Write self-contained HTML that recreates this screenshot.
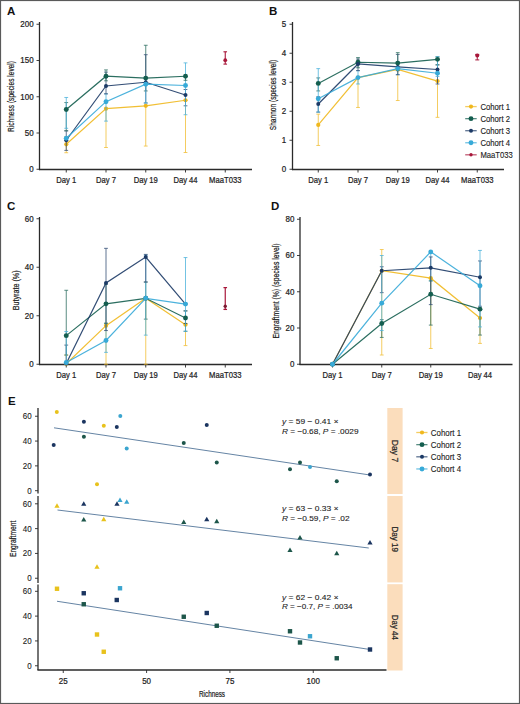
<!DOCTYPE html><html><head><meta charset="utf-8"><style>html,body{margin:0;padding:0;background:#fff;}svg{display:block;}text{font-family:"Liberation Sans", sans-serif;}</style></head><body>
<svg width="520" height="704" viewBox="0 0 520 704">
<rect x="0" y="0" width="520" height="704" fill="#fff"/>
<text x="7.00" y="14.60" font-size="11.5" text-anchor="start" fill="#111" font-weight="bold">A</text>
<line x1="39.50" y1="22.00" x2="39.50" y2="170.10" stroke="#2a2a2a" stroke-width="1.3"/>
<line x1="38.90" y1="169.50" x2="252.00" y2="169.50" stroke="#2a2a2a" stroke-width="1.3"/>
<line x1="36.50" y1="169.25" x2="39.50" y2="169.25" stroke="#2a2a2a" stroke-width="0.9"/>
<text x="33.60" y="172.15" font-size="8.4" text-anchor="end" fill="#222" stroke="#222" stroke-width="0.22" textLength="4.44" lengthAdjust="spacingAndGlyphs">0</text>
<line x1="36.50" y1="133.00" x2="39.50" y2="133.00" stroke="#2a2a2a" stroke-width="0.9"/>
<text x="33.60" y="135.90" font-size="8.4" text-anchor="end" fill="#222" stroke="#222" stroke-width="0.22" textLength="8.88" lengthAdjust="spacingAndGlyphs">50</text>
<line x1="36.50" y1="96.75" x2="39.50" y2="96.75" stroke="#2a2a2a" stroke-width="0.9"/>
<text x="33.60" y="99.65" font-size="8.4" text-anchor="end" fill="#222" stroke="#222" stroke-width="0.22" textLength="13.31" lengthAdjust="spacingAndGlyphs">100</text>
<line x1="36.50" y1="60.50" x2="39.50" y2="60.50" stroke="#2a2a2a" stroke-width="0.9"/>
<text x="33.60" y="63.40" font-size="8.4" text-anchor="end" fill="#222" stroke="#222" stroke-width="0.22" textLength="13.31" lengthAdjust="spacingAndGlyphs">150</text>
<line x1="36.50" y1="24.25" x2="39.50" y2="24.25" stroke="#2a2a2a" stroke-width="0.9"/>
<text x="33.60" y="27.15" font-size="8.4" text-anchor="end" fill="#222" stroke="#222" stroke-width="0.22" textLength="13.31" lengthAdjust="spacingAndGlyphs">200</text>
<line x1="66.25" y1="169.50" x2="66.25" y2="172.50" stroke="#2a2a2a" stroke-width="0.9"/>
<text x="66.25" y="182.80" font-size="8.4" text-anchor="middle" fill="#222" stroke="#222" stroke-width="0.22" textLength="19.96" lengthAdjust="spacingAndGlyphs">Day 1</text>
<line x1="106.00" y1="169.50" x2="106.00" y2="172.50" stroke="#2a2a2a" stroke-width="0.9"/>
<text x="106.00" y="182.80" font-size="8.4" text-anchor="middle" fill="#222" stroke="#222" stroke-width="0.22" textLength="19.96" lengthAdjust="spacingAndGlyphs">Day 7</text>
<line x1="145.75" y1="169.50" x2="145.75" y2="172.50" stroke="#2a2a2a" stroke-width="0.9"/>
<text x="145.75" y="182.80" font-size="8.4" text-anchor="middle" fill="#222" stroke="#222" stroke-width="0.22" textLength="24.21" lengthAdjust="spacingAndGlyphs">Day 19</text>
<line x1="185.50" y1="169.50" x2="185.50" y2="172.50" stroke="#2a2a2a" stroke-width="0.9"/>
<text x="185.50" y="182.80" font-size="8.4" text-anchor="middle" fill="#222" stroke="#222" stroke-width="0.22" textLength="24.21" lengthAdjust="spacingAndGlyphs">Day 44</text>
<line x1="225.25" y1="169.50" x2="225.25" y2="172.50" stroke="#2a2a2a" stroke-width="0.9"/>
<text x="225.25" y="182.80" font-size="8.4" text-anchor="middle" fill="#222" stroke="#222" stroke-width="0.22" textLength="32.28" lengthAdjust="spacingAndGlyphs">MaaT033</text>
<text x="14.00" y="96.50" font-size="9.6" text-anchor="middle" fill="#222" stroke="#222" stroke-width="0.22" textLength="71" lengthAdjust="spacingAndGlyphs" transform="rotate(-90 14.00 96.50)">Richness (species level)</text>
<polyline fill="none" stroke="#F0B81E" stroke-width="1.2" stroke-opacity="0.9" points="66.25,144.31 106.00,108.64 145.75,105.81 185.50,100.23"/>
<polyline fill="none" stroke="#145E4F" stroke-width="1.2" stroke-opacity="0.9" points="66.25,109.44 106.00,76.23 145.75,78.12 185.50,76.23"/>
<polyline fill="none" stroke="#1C3A66" stroke-width="1.2" stroke-opacity="0.9" points="66.25,140.25 106.00,86.02 145.75,82.25 185.50,95.01"/>
<polyline fill="none" stroke="#37AAD8" stroke-width="1.2" stroke-opacity="0.9" points="66.25,138.29 106.00,101.68 145.75,84.21 185.50,85.51"/>
<circle cx="66.25" cy="144.31" r="2.1" fill="#F0B81E"/>
<circle cx="106.00" cy="108.64" r="2.1" fill="#F0B81E"/>
<circle cx="145.75" cy="105.81" r="2.1" fill="#F0B81E"/>
<circle cx="185.50" cy="100.23" r="2.1" fill="#F0B81E"/>
<g opacity="0.88">
<line x1="66.25" y1="152.72" x2="66.25" y2="136.62" stroke="#F0B81E" stroke-width="0.8"/>
<line x1="64.35" y1="152.72" x2="68.15" y2="152.72" stroke="#F0B81E" stroke-width="0.8"/>
<line x1="64.35" y1="136.62" x2="68.15" y2="136.62" stroke="#F0B81E" stroke-width="0.8"/>
<line x1="66.25" y1="150.40" x2="66.25" y2="130.82" stroke="#1C3A66" stroke-width="0.8"/>
<line x1="64.35" y1="150.40" x2="68.15" y2="150.40" stroke="#1C3A66" stroke-width="0.8"/>
<line x1="64.35" y1="130.82" x2="68.15" y2="130.82" stroke="#1C3A66" stroke-width="0.8"/>
<line x1="66.25" y1="130.82" x2="66.25" y2="102.55" stroke="#145E4F" stroke-width="0.8"/>
<line x1="64.35" y1="130.82" x2="68.15" y2="130.82" stroke="#145E4F" stroke-width="0.8"/>
<line x1="64.35" y1="102.55" x2="68.15" y2="102.55" stroke="#145E4F" stroke-width="0.8"/>
<line x1="66.25" y1="128.29" x2="66.25" y2="97.48" stroke="#37AAD8" stroke-width="0.8"/>
<line x1="64.35" y1="128.29" x2="68.15" y2="128.29" stroke="#37AAD8" stroke-width="0.8"/>
<line x1="64.35" y1="97.48" x2="68.15" y2="97.48" stroke="#37AAD8" stroke-width="0.8"/>
<line x1="106.00" y1="147.50" x2="106.00" y2="108.35" stroke="#F0B81E" stroke-width="0.8"/>
<line x1="104.10" y1="147.50" x2="107.90" y2="147.50" stroke="#F0B81E" stroke-width="0.8"/>
<line x1="104.10" y1="108.35" x2="107.90" y2="108.35" stroke="#F0B81E" stroke-width="0.8"/>
<line x1="106.00" y1="121.11" x2="106.00" y2="93.85" stroke="#37AAD8" stroke-width="0.8"/>
<line x1="104.10" y1="121.11" x2="107.90" y2="121.11" stroke="#37AAD8" stroke-width="0.8"/>
<line x1="104.10" y1="93.85" x2="107.90" y2="93.85" stroke="#37AAD8" stroke-width="0.8"/>
<line x1="106.00" y1="93.85" x2="106.00" y2="72.10" stroke="#1C3A66" stroke-width="0.8"/>
<line x1="104.10" y1="93.85" x2="107.90" y2="93.85" stroke="#1C3A66" stroke-width="0.8"/>
<line x1="104.10" y1="72.10" x2="107.90" y2="72.10" stroke="#1C3A66" stroke-width="0.8"/>
<line x1="106.00" y1="80.80" x2="106.00" y2="69.92" stroke="#145E4F" stroke-width="0.8"/>
<line x1="104.10" y1="80.80" x2="107.90" y2="80.80" stroke="#145E4F" stroke-width="0.8"/>
<line x1="104.10" y1="69.92" x2="107.90" y2="69.92" stroke="#145E4F" stroke-width="0.8"/>
<line x1="145.75" y1="146.05" x2="145.75" y2="105.81" stroke="#F0B81E" stroke-width="0.8"/>
<line x1="143.85" y1="146.05" x2="147.65" y2="146.05" stroke="#F0B81E" stroke-width="0.8"/>
<line x1="143.85" y1="105.81" x2="147.65" y2="105.81" stroke="#F0B81E" stroke-width="0.8"/>
<line x1="145.75" y1="90.95" x2="145.75" y2="45.28" stroke="#145E4F" stroke-width="0.8"/>
<line x1="143.85" y1="90.95" x2="147.65" y2="90.95" stroke="#145E4F" stroke-width="0.8"/>
<line x1="143.85" y1="45.28" x2="147.65" y2="45.28" stroke="#145E4F" stroke-width="0.8"/>
<line x1="145.75" y1="102.98" x2="145.75" y2="54.70" stroke="#1C3A66" stroke-width="0.8"/>
<line x1="143.85" y1="102.98" x2="147.65" y2="102.98" stroke="#1C3A66" stroke-width="0.8"/>
<line x1="143.85" y1="54.70" x2="147.65" y2="54.70" stroke="#1C3A66" stroke-width="0.8"/>
<line x1="145.75" y1="102.98" x2="145.75" y2="78.62" stroke="#37AAD8" stroke-width="0.8"/>
<line x1="143.85" y1="102.98" x2="147.65" y2="102.98" stroke="#37AAD8" stroke-width="0.8"/>
<line x1="143.85" y1="78.62" x2="147.65" y2="78.62" stroke="#37AAD8" stroke-width="0.8"/>
<line x1="185.50" y1="152.50" x2="185.50" y2="100.23" stroke="#F0B81E" stroke-width="0.8"/>
<line x1="183.60" y1="152.50" x2="187.40" y2="152.50" stroke="#F0B81E" stroke-width="0.8"/>
<line x1="183.60" y1="100.23" x2="187.40" y2="100.23" stroke="#F0B81E" stroke-width="0.8"/>
<line x1="185.50" y1="105.81" x2="185.50" y2="89.50" stroke="#1C3A66" stroke-width="0.8"/>
<line x1="183.60" y1="105.81" x2="187.40" y2="105.81" stroke="#1C3A66" stroke-width="0.8"/>
<line x1="183.60" y1="89.50" x2="187.40" y2="89.50" stroke="#1C3A66" stroke-width="0.8"/>
<line x1="185.50" y1="114.73" x2="185.50" y2="62.89" stroke="#37AAD8" stroke-width="0.8"/>
<line x1="183.60" y1="114.73" x2="187.40" y2="114.73" stroke="#37AAD8" stroke-width="0.8"/>
<line x1="183.60" y1="62.89" x2="187.40" y2="62.89" stroke="#37AAD8" stroke-width="0.8"/>
<line x1="185.50" y1="80.29" x2="185.50" y2="76.23" stroke="#145E4F" stroke-width="0.8"/>
<line x1="183.60" y1="80.29" x2="187.40" y2="80.29" stroke="#145E4F" stroke-width="0.8"/>
<line x1="183.60" y1="76.23" x2="187.40" y2="76.23" stroke="#145E4F" stroke-width="0.8"/>
</g>
<circle cx="66.25" cy="109.44" r="2.45" fill="#145E4F"/>
<circle cx="106.00" cy="76.23" r="2.45" fill="#145E4F"/>
<circle cx="145.75" cy="78.12" r="2.45" fill="#145E4F"/>
<circle cx="185.50" cy="76.23" r="2.45" fill="#145E4F"/>
<circle cx="66.25" cy="140.25" r="2.0" fill="#1C3A66"/>
<circle cx="106.00" cy="86.02" r="2.0" fill="#1C3A66"/>
<circle cx="145.75" cy="82.25" r="2.0" fill="#1C3A66"/>
<circle cx="185.50" cy="95.01" r="2.0" fill="#1C3A66"/>
<circle cx="66.25" cy="138.29" r="2.45" fill="#37AAD8"/>
<circle cx="106.00" cy="101.68" r="2.45" fill="#37AAD8"/>
<circle cx="145.75" cy="84.21" r="2.45" fill="#37AAD8"/>
<circle cx="185.50" cy="85.51" r="2.45" fill="#37AAD8"/>
<line x1="225.25" y1="64.12" x2="225.25" y2="51.80" stroke="#A8173A" stroke-width="1.1"/>
<line x1="223.45" y1="64.12" x2="227.05" y2="64.12" stroke="#A8173A" stroke-width="1.1"/>
<line x1="223.45" y1="51.80" x2="227.05" y2="51.80" stroke="#A8173A" stroke-width="1.1"/>
<circle cx="225.25" cy="60.14" r="1.9" fill="#A8173A"/>
<text x="269.00" y="15.00" font-size="11.5" text-anchor="start" fill="#111" font-weight="bold">B</text>
<line x1="292.50" y1="22.00" x2="292.50" y2="170.10" stroke="#2a2a2a" stroke-width="1.3"/>
<line x1="291.90" y1="169.50" x2="504.00" y2="169.50" stroke="#2a2a2a" stroke-width="1.3"/>
<line x1="289.50" y1="169.25" x2="292.50" y2="169.25" stroke="#2a2a2a" stroke-width="0.9"/>
<text x="286.20" y="172.15" font-size="8.4" text-anchor="end" fill="#222" stroke="#222" stroke-width="0.22" textLength="4.44" lengthAdjust="spacingAndGlyphs">0</text>
<line x1="289.50" y1="140.25" x2="292.50" y2="140.25" stroke="#2a2a2a" stroke-width="0.9"/>
<text x="286.20" y="143.15" font-size="8.4" text-anchor="end" fill="#222" stroke="#222" stroke-width="0.22" textLength="4.44" lengthAdjust="spacingAndGlyphs">1</text>
<line x1="289.50" y1="111.25" x2="292.50" y2="111.25" stroke="#2a2a2a" stroke-width="0.9"/>
<text x="286.20" y="114.15" font-size="8.4" text-anchor="end" fill="#222" stroke="#222" stroke-width="0.22" textLength="4.44" lengthAdjust="spacingAndGlyphs">2</text>
<line x1="289.50" y1="82.25" x2="292.50" y2="82.25" stroke="#2a2a2a" stroke-width="0.9"/>
<text x="286.20" y="85.15" font-size="8.4" text-anchor="end" fill="#222" stroke="#222" stroke-width="0.22" textLength="4.44" lengthAdjust="spacingAndGlyphs">3</text>
<line x1="289.50" y1="53.25" x2="292.50" y2="53.25" stroke="#2a2a2a" stroke-width="0.9"/>
<text x="286.20" y="56.15" font-size="8.4" text-anchor="end" fill="#222" stroke="#222" stroke-width="0.22" textLength="4.44" lengthAdjust="spacingAndGlyphs">4</text>
<line x1="289.50" y1="24.25" x2="292.50" y2="24.25" stroke="#2a2a2a" stroke-width="0.9"/>
<text x="286.20" y="27.15" font-size="8.4" text-anchor="end" fill="#222" stroke="#222" stroke-width="0.22" textLength="4.44" lengthAdjust="spacingAndGlyphs">5</text>
<line x1="318.25" y1="169.50" x2="318.25" y2="172.50" stroke="#2a2a2a" stroke-width="0.9"/>
<text x="318.25" y="182.80" font-size="8.4" text-anchor="middle" fill="#222" stroke="#222" stroke-width="0.22" textLength="19.96" lengthAdjust="spacingAndGlyphs">Day 1</text>
<line x1="358.00" y1="169.50" x2="358.00" y2="172.50" stroke="#2a2a2a" stroke-width="0.9"/>
<text x="358.00" y="182.80" font-size="8.4" text-anchor="middle" fill="#222" stroke="#222" stroke-width="0.22" textLength="19.96" lengthAdjust="spacingAndGlyphs">Day 7</text>
<line x1="397.75" y1="169.50" x2="397.75" y2="172.50" stroke="#2a2a2a" stroke-width="0.9"/>
<text x="397.75" y="182.80" font-size="8.4" text-anchor="middle" fill="#222" stroke="#222" stroke-width="0.22" textLength="24.21" lengthAdjust="spacingAndGlyphs">Day 19</text>
<line x1="437.50" y1="169.50" x2="437.50" y2="172.50" stroke="#2a2a2a" stroke-width="0.9"/>
<text x="437.50" y="182.80" font-size="8.4" text-anchor="middle" fill="#222" stroke="#222" stroke-width="0.22" textLength="24.21" lengthAdjust="spacingAndGlyphs">Day 44</text>
<line x1="477.25" y1="169.50" x2="477.25" y2="172.50" stroke="#2a2a2a" stroke-width="0.9"/>
<text x="477.25" y="182.80" font-size="8.4" text-anchor="middle" fill="#222" stroke="#222" stroke-width="0.22" textLength="32.28" lengthAdjust="spacingAndGlyphs">MaaT033</text>
<text x="275.70" y="95.00" font-size="9.6" text-anchor="middle" fill="#222" stroke="#222" stroke-width="0.22" textLength="70.4" lengthAdjust="spacingAndGlyphs" transform="rotate(-90 275.70 95.00)">Shannon (species level)</text>
<polyline fill="none" stroke="#F0B81E" stroke-width="1.2" stroke-opacity="0.9" points="318.25,124.88 358.00,77.61 397.75,69.49 437.50,81.09"/>
<polyline fill="none" stroke="#145E4F" stroke-width="1.2" stroke-opacity="0.9" points="318.25,83.41 358.00,62.24 397.75,63.11 437.50,59.34"/>
<polyline fill="none" stroke="#1C3A66" stroke-width="1.2" stroke-opacity="0.9" points="318.25,104.00 358.00,63.98 397.75,66.88 437.50,69.49"/>
<polyline fill="none" stroke="#37AAD8" stroke-width="1.2" stroke-opacity="0.9" points="318.25,98.78 358.00,77.61 397.75,68.62 437.50,73.26"/>
<circle cx="318.25" cy="124.88" r="2.1" fill="#F0B81E"/>
<circle cx="358.00" cy="77.61" r="2.1" fill="#F0B81E"/>
<circle cx="397.75" cy="69.49" r="2.1" fill="#F0B81E"/>
<circle cx="437.50" cy="81.09" r="2.1" fill="#F0B81E"/>
<g opacity="0.88">
<line x1="318.25" y1="145.47" x2="318.25" y2="114.15" stroke="#F0B81E" stroke-width="0.8"/>
<line x1="316.35" y1="145.47" x2="320.15" y2="145.47" stroke="#F0B81E" stroke-width="0.8"/>
<line x1="316.35" y1="114.15" x2="320.15" y2="114.15" stroke="#F0B81E" stroke-width="0.8"/>
<line x1="318.25" y1="112.12" x2="318.25" y2="96.75" stroke="#1C3A66" stroke-width="0.8"/>
<line x1="316.35" y1="112.12" x2="320.15" y2="112.12" stroke="#1C3A66" stroke-width="0.8"/>
<line x1="316.35" y1="96.75" x2="320.15" y2="96.75" stroke="#1C3A66" stroke-width="0.8"/>
<line x1="318.25" y1="90.95" x2="318.25" y2="77.90" stroke="#145E4F" stroke-width="0.8"/>
<line x1="316.35" y1="90.95" x2="320.15" y2="90.95" stroke="#145E4F" stroke-width="0.8"/>
<line x1="316.35" y1="77.90" x2="320.15" y2="77.90" stroke="#145E4F" stroke-width="0.8"/>
<line x1="318.25" y1="112.12" x2="318.25" y2="68.62" stroke="#37AAD8" stroke-width="0.8"/>
<line x1="316.35" y1="112.12" x2="320.15" y2="112.12" stroke="#37AAD8" stroke-width="0.8"/>
<line x1="316.35" y1="68.62" x2="320.15" y2="68.62" stroke="#37AAD8" stroke-width="0.8"/>
<line x1="358.00" y1="107.48" x2="358.00" y2="77.61" stroke="#F0B81E" stroke-width="0.8"/>
<line x1="356.10" y1="107.48" x2="359.90" y2="107.48" stroke="#F0B81E" stroke-width="0.8"/>
<line x1="356.10" y1="77.61" x2="359.90" y2="77.61" stroke="#F0B81E" stroke-width="0.8"/>
<line x1="358.00" y1="83.99" x2="358.00" y2="70.65" stroke="#37AAD8" stroke-width="0.8"/>
<line x1="356.10" y1="83.99" x2="359.90" y2="83.99" stroke="#37AAD8" stroke-width="0.8"/>
<line x1="356.10" y1="70.65" x2="359.90" y2="70.65" stroke="#37AAD8" stroke-width="0.8"/>
<line x1="358.00" y1="70.65" x2="358.00" y2="59.05" stroke="#1C3A66" stroke-width="0.8"/>
<line x1="356.10" y1="70.65" x2="359.90" y2="70.65" stroke="#1C3A66" stroke-width="0.8"/>
<line x1="356.10" y1="59.05" x2="359.90" y2="59.05" stroke="#1C3A66" stroke-width="0.8"/>
<line x1="358.00" y1="67.75" x2="358.00" y2="57.60" stroke="#145E4F" stroke-width="0.8"/>
<line x1="356.10" y1="67.75" x2="359.90" y2="67.75" stroke="#145E4F" stroke-width="0.8"/>
<line x1="356.10" y1="57.60" x2="359.90" y2="57.60" stroke="#145E4F" stroke-width="0.8"/>
<line x1="397.75" y1="100.52" x2="397.75" y2="69.49" stroke="#F0B81E" stroke-width="0.8"/>
<line x1="395.85" y1="100.52" x2="399.65" y2="100.52" stroke="#F0B81E" stroke-width="0.8"/>
<line x1="395.85" y1="69.49" x2="399.65" y2="69.49" stroke="#F0B81E" stroke-width="0.8"/>
<line x1="397.75" y1="74.71" x2="397.75" y2="61.95" stroke="#37AAD8" stroke-width="0.8"/>
<line x1="395.85" y1="74.71" x2="399.65" y2="74.71" stroke="#37AAD8" stroke-width="0.8"/>
<line x1="395.85" y1="61.95" x2="399.65" y2="61.95" stroke="#37AAD8" stroke-width="0.8"/>
<line x1="397.75" y1="74.71" x2="397.75" y2="54.41" stroke="#1C3A66" stroke-width="0.8"/>
<line x1="395.85" y1="74.71" x2="399.65" y2="74.71" stroke="#1C3A66" stroke-width="0.8"/>
<line x1="395.85" y1="54.41" x2="399.65" y2="54.41" stroke="#1C3A66" stroke-width="0.8"/>
<line x1="397.75" y1="70.65" x2="397.75" y2="52.67" stroke="#145E4F" stroke-width="0.8"/>
<line x1="395.85" y1="70.65" x2="399.65" y2="70.65" stroke="#145E4F" stroke-width="0.8"/>
<line x1="395.85" y1="52.67" x2="399.65" y2="52.67" stroke="#145E4F" stroke-width="0.8"/>
<line x1="437.50" y1="117.34" x2="437.50" y2="81.09" stroke="#F0B81E" stroke-width="0.8"/>
<line x1="435.60" y1="117.34" x2="439.40" y2="117.34" stroke="#F0B81E" stroke-width="0.8"/>
<line x1="435.60" y1="81.09" x2="439.40" y2="81.09" stroke="#F0B81E" stroke-width="0.8"/>
<line x1="437.50" y1="83.99" x2="437.50" y2="64.85" stroke="#1C3A66" stroke-width="0.8"/>
<line x1="435.60" y1="83.99" x2="439.40" y2="83.99" stroke="#1C3A66" stroke-width="0.8"/>
<line x1="435.60" y1="64.85" x2="439.40" y2="64.85" stroke="#1C3A66" stroke-width="0.8"/>
<line x1="437.50" y1="64.85" x2="437.50" y2="56.73" stroke="#145E4F" stroke-width="0.8"/>
<line x1="435.60" y1="64.85" x2="439.40" y2="64.85" stroke="#145E4F" stroke-width="0.8"/>
<line x1="435.60" y1="56.73" x2="439.40" y2="56.73" stroke="#145E4F" stroke-width="0.8"/>
<line x1="437.50" y1="76.45" x2="437.50" y2="56.73" stroke="#37AAD8" stroke-width="0.8"/>
<line x1="435.60" y1="76.45" x2="439.40" y2="76.45" stroke="#37AAD8" stroke-width="0.8"/>
<line x1="435.60" y1="56.73" x2="439.40" y2="56.73" stroke="#37AAD8" stroke-width="0.8"/>
</g>
<circle cx="318.25" cy="83.41" r="2.45" fill="#145E4F"/>
<circle cx="358.00" cy="62.24" r="2.45" fill="#145E4F"/>
<circle cx="397.75" cy="63.11" r="2.45" fill="#145E4F"/>
<circle cx="437.50" cy="59.34" r="2.45" fill="#145E4F"/>
<circle cx="318.25" cy="104.00" r="2.0" fill="#1C3A66"/>
<circle cx="358.00" cy="63.98" r="2.0" fill="#1C3A66"/>
<circle cx="397.75" cy="66.88" r="2.0" fill="#1C3A66"/>
<circle cx="437.50" cy="69.49" r="2.0" fill="#1C3A66"/>
<circle cx="318.25" cy="98.78" r="2.45" fill="#37AAD8"/>
<circle cx="358.00" cy="77.61" r="2.45" fill="#37AAD8"/>
<circle cx="397.75" cy="68.62" r="2.45" fill="#37AAD8"/>
<circle cx="437.50" cy="73.26" r="2.45" fill="#37AAD8"/>
<line x1="477.25" y1="59.92" x2="477.25" y2="54.41" stroke="#A8173A" stroke-width="1.0"/>
<line x1="475.25" y1="59.92" x2="479.25" y2="59.92" stroke="#A8173A" stroke-width="1.0"/>
<line x1="475.25" y1="54.41" x2="479.25" y2="54.41" stroke="#A8173A" stroke-width="1.0"/>
<circle cx="477.25" cy="55.43" r="2.0" fill="#A8173A"/>
<line x1="465.2" y1="106.60" x2="476.7" y2="106.60" stroke="#F0B81E" stroke-width="1.3" opacity="0.7"/>
<circle cx="471.00" cy="106.60" r="2.1" fill="#F0B81E"/>
<text x="480.40" y="109.90" font-size="8.4" text-anchor="start" fill="#222" stroke="#222" stroke-width="0.12" textLength="29.6" lengthAdjust="spacingAndGlyphs">Cohort 1</text>
<line x1="465.2" y1="118.65" x2="476.7" y2="118.65" stroke="#145E4F" stroke-width="1.3" opacity="0.7"/>
<circle cx="471.00" cy="118.65" r="2.45" fill="#145E4F"/>
<text x="480.40" y="121.95" font-size="8.4" text-anchor="start" fill="#222" stroke="#222" stroke-width="0.12" textLength="29.6" lengthAdjust="spacingAndGlyphs">Cohort 2</text>
<line x1="465.2" y1="130.70" x2="476.7" y2="130.70" stroke="#1C3A66" stroke-width="1.3" opacity="0.7"/>
<circle cx="471.00" cy="130.70" r="2.0" fill="#1C3A66"/>
<text x="480.40" y="134.00" font-size="8.4" text-anchor="start" fill="#222" stroke="#222" stroke-width="0.12" textLength="29.6" lengthAdjust="spacingAndGlyphs">Cohort 3</text>
<line x1="465.2" y1="142.75" x2="476.7" y2="142.75" stroke="#37AAD8" stroke-width="1.3" opacity="0.7"/>
<circle cx="471.00" cy="142.75" r="2.45" fill="#37AAD8"/>
<text x="480.40" y="146.05" font-size="8.4" text-anchor="start" fill="#222" stroke="#222" stroke-width="0.12" textLength="29.6" lengthAdjust="spacingAndGlyphs">Cohort 4</text>
<line x1="465.2" y1="154.80" x2="476.7" y2="154.80" stroke="#A8173A" stroke-width="1.3" opacity="0.7"/>
<circle cx="471.00" cy="154.80" r="1.7" fill="#A8173A"/>
<text x="480.40" y="158.10" font-size="8.4" text-anchor="start" fill="#222" stroke="#222" stroke-width="0.12" textLength="32.3" lengthAdjust="spacingAndGlyphs">MaaT033</text>
<text x="7.00" y="210.30" font-size="11.5" text-anchor="start" fill="#111" font-weight="bold">C</text>
<line x1="39.50" y1="217.00" x2="39.50" y2="365.10" stroke="#2a2a2a" stroke-width="1.3"/>
<line x1="38.90" y1="364.50" x2="252.00" y2="364.50" stroke="#2a2a2a" stroke-width="1.3"/>
<line x1="36.50" y1="364.25" x2="39.50" y2="364.25" stroke="#2a2a2a" stroke-width="0.9"/>
<text x="33.60" y="367.15" font-size="8.4" text-anchor="end" fill="#222" stroke="#222" stroke-width="0.22" textLength="4.44" lengthAdjust="spacingAndGlyphs">0</text>
<line x1="36.50" y1="315.75" x2="39.50" y2="315.75" stroke="#2a2a2a" stroke-width="0.9"/>
<text x="33.60" y="318.65" font-size="8.4" text-anchor="end" fill="#222" stroke="#222" stroke-width="0.22" textLength="8.88" lengthAdjust="spacingAndGlyphs">20</text>
<line x1="36.50" y1="267.25" x2="39.50" y2="267.25" stroke="#2a2a2a" stroke-width="0.9"/>
<text x="33.60" y="270.15" font-size="8.4" text-anchor="end" fill="#222" stroke="#222" stroke-width="0.22" textLength="8.88" lengthAdjust="spacingAndGlyphs">40</text>
<line x1="36.50" y1="218.75" x2="39.50" y2="218.75" stroke="#2a2a2a" stroke-width="0.9"/>
<text x="33.60" y="221.65" font-size="8.4" text-anchor="end" fill="#222" stroke="#222" stroke-width="0.22" textLength="8.88" lengthAdjust="spacingAndGlyphs">60</text>
<line x1="66.25" y1="364.50" x2="66.25" y2="367.50" stroke="#2a2a2a" stroke-width="0.9"/>
<text x="66.25" y="377.80" font-size="8.4" text-anchor="middle" fill="#222" stroke="#222" stroke-width="0.22" textLength="19.96" lengthAdjust="spacingAndGlyphs">Day 1</text>
<line x1="106.00" y1="364.50" x2="106.00" y2="367.50" stroke="#2a2a2a" stroke-width="0.9"/>
<text x="106.00" y="377.80" font-size="8.4" text-anchor="middle" fill="#222" stroke="#222" stroke-width="0.22" textLength="19.96" lengthAdjust="spacingAndGlyphs">Day 7</text>
<line x1="145.75" y1="364.50" x2="145.75" y2="367.50" stroke="#2a2a2a" stroke-width="0.9"/>
<text x="145.75" y="377.80" font-size="8.4" text-anchor="middle" fill="#222" stroke="#222" stroke-width="0.22" textLength="24.21" lengthAdjust="spacingAndGlyphs">Day 19</text>
<line x1="185.50" y1="364.50" x2="185.50" y2="367.50" stroke="#2a2a2a" stroke-width="0.9"/>
<text x="185.50" y="377.80" font-size="8.4" text-anchor="middle" fill="#222" stroke="#222" stroke-width="0.22" textLength="24.21" lengthAdjust="spacingAndGlyphs">Day 44</text>
<line x1="225.25" y1="364.50" x2="225.25" y2="367.50" stroke="#2a2a2a" stroke-width="0.9"/>
<text x="225.25" y="377.80" font-size="8.4" text-anchor="middle" fill="#222" stroke="#222" stroke-width="0.22" textLength="32.28" lengthAdjust="spacingAndGlyphs">MaaT033</text>
<text x="18.60" y="290.30" font-size="9.6" text-anchor="middle" fill="#222" stroke="#222" stroke-width="0.22" textLength="39.9" lengthAdjust="spacingAndGlyphs" transform="rotate(-90 18.60 290.30)">Butyrate (%)</text>
<polyline fill="none" stroke="#F0B81E" stroke-width="1.2" stroke-opacity="0.9" points="66.25,363.76 106.00,325.69 145.75,298.29 185.50,324.72"/>
<polyline fill="none" stroke="#145E4F" stroke-width="1.2" stroke-opacity="0.9" points="66.25,335.63 106.00,303.87 145.75,298.29 185.50,317.93"/>
<polyline fill="none" stroke="#1C3A66" stroke-width="1.2" stroke-opacity="0.9" points="66.25,363.52 106.00,283.01 145.75,257.06 185.50,304.11"/>
<polyline fill="none" stroke="#37AAD8" stroke-width="1.2" stroke-opacity="0.9" points="66.25,362.43 106.00,340.49 145.75,298.29 185.50,304.11"/>
<circle cx="66.25" cy="363.76" r="2.1" fill="#F0B81E"/>
<circle cx="106.00" cy="325.69" r="2.1" fill="#F0B81E"/>
<circle cx="145.75" cy="298.29" r="2.1" fill="#F0B81E"/>
<circle cx="185.50" cy="324.72" r="2.1" fill="#F0B81E"/>
<g opacity="0.88">
<line x1="66.25" y1="364.25" x2="66.25" y2="355.04" stroke="#F0B81E" stroke-width="0.8"/>
<line x1="64.35" y1="364.25" x2="68.15" y2="364.25" stroke="#F0B81E" stroke-width="0.8"/>
<line x1="64.35" y1="355.04" x2="68.15" y2="355.04" stroke="#F0B81E" stroke-width="0.8"/>
<line x1="66.25" y1="364.25" x2="66.25" y2="345.09" stroke="#1C3A66" stroke-width="0.8"/>
<line x1="64.35" y1="364.25" x2="68.15" y2="364.25" stroke="#1C3A66" stroke-width="0.8"/>
<line x1="64.35" y1="345.09" x2="68.15" y2="345.09" stroke="#1C3A66" stroke-width="0.8"/>
<line x1="66.25" y1="355.04" x2="66.25" y2="290.29" stroke="#145E4F" stroke-width="0.8"/>
<line x1="64.35" y1="355.04" x2="68.15" y2="355.04" stroke="#145E4F" stroke-width="0.8"/>
<line x1="64.35" y1="290.29" x2="68.15" y2="290.29" stroke="#145E4F" stroke-width="0.8"/>
<line x1="66.25" y1="364.25" x2="66.25" y2="331.51" stroke="#37AAD8" stroke-width="0.8"/>
<line x1="64.35" y1="364.25" x2="68.15" y2="364.25" stroke="#37AAD8" stroke-width="0.8"/>
<line x1="64.35" y1="331.51" x2="68.15" y2="331.51" stroke="#37AAD8" stroke-width="0.8"/>
<line x1="106.00" y1="364.25" x2="106.00" y2="323.27" stroke="#F0B81E" stroke-width="0.8"/>
<line x1="104.10" y1="364.25" x2="107.90" y2="364.25" stroke="#F0B81E" stroke-width="0.8"/>
<line x1="104.10" y1="323.27" x2="107.90" y2="323.27" stroke="#F0B81E" stroke-width="0.8"/>
<line x1="106.00" y1="352.37" x2="106.00" y2="323.27" stroke="#37AAD8" stroke-width="0.8"/>
<line x1="104.10" y1="352.37" x2="107.90" y2="352.37" stroke="#37AAD8" stroke-width="0.8"/>
<line x1="104.10" y1="323.27" x2="107.90" y2="323.27" stroke="#37AAD8" stroke-width="0.8"/>
<line x1="106.00" y1="323.27" x2="106.00" y2="284.23" stroke="#145E4F" stroke-width="0.8"/>
<line x1="104.10" y1="323.27" x2="107.90" y2="323.27" stroke="#145E4F" stroke-width="0.8"/>
<line x1="104.10" y1="284.23" x2="107.90" y2="284.23" stroke="#145E4F" stroke-width="0.8"/>
<line x1="106.00" y1="330.54" x2="106.00" y2="248.34" stroke="#1C3A66" stroke-width="0.8"/>
<line x1="104.10" y1="330.54" x2="107.90" y2="330.54" stroke="#1C3A66" stroke-width="0.8"/>
<line x1="104.10" y1="248.34" x2="107.90" y2="248.34" stroke="#1C3A66" stroke-width="0.8"/>
<line x1="145.75" y1="364.25" x2="145.75" y2="298.29" stroke="#F0B81E" stroke-width="0.8"/>
<line x1="143.85" y1="364.25" x2="147.65" y2="364.25" stroke="#F0B81E" stroke-width="0.8"/>
<line x1="143.85" y1="298.29" x2="147.65" y2="298.29" stroke="#F0B81E" stroke-width="0.8"/>
<line x1="145.75" y1="319.14" x2="145.75" y2="282.04" stroke="#145E4F" stroke-width="0.8"/>
<line x1="143.85" y1="319.14" x2="147.65" y2="319.14" stroke="#145E4F" stroke-width="0.8"/>
<line x1="143.85" y1="282.04" x2="147.65" y2="282.04" stroke="#145E4F" stroke-width="0.8"/>
<line x1="145.75" y1="335.15" x2="145.75" y2="255.12" stroke="#37AAD8" stroke-width="0.8"/>
<line x1="143.85" y1="335.15" x2="147.65" y2="335.15" stroke="#37AAD8" stroke-width="0.8"/>
<line x1="143.85" y1="255.12" x2="147.65" y2="255.12" stroke="#37AAD8" stroke-width="0.8"/>
<line x1="145.75" y1="282.04" x2="145.75" y2="254.40" stroke="#1C3A66" stroke-width="0.8"/>
<line x1="143.85" y1="282.04" x2="147.65" y2="282.04" stroke="#1C3A66" stroke-width="0.8"/>
<line x1="143.85" y1="254.40" x2="147.65" y2="254.40" stroke="#1C3A66" stroke-width="0.8"/>
<line x1="185.50" y1="345.58" x2="185.50" y2="324.72" stroke="#F0B81E" stroke-width="0.8"/>
<line x1="183.60" y1="345.58" x2="187.40" y2="345.58" stroke="#F0B81E" stroke-width="0.8"/>
<line x1="183.60" y1="324.72" x2="187.40" y2="324.72" stroke="#F0B81E" stroke-width="0.8"/>
<line x1="185.50" y1="323.51" x2="185.50" y2="310.90" stroke="#1C3A66" stroke-width="0.8"/>
<line x1="183.60" y1="323.51" x2="187.40" y2="323.51" stroke="#1C3A66" stroke-width="0.8"/>
<line x1="183.60" y1="310.90" x2="187.40" y2="310.90" stroke="#1C3A66" stroke-width="0.8"/>
<line x1="185.50" y1="331.27" x2="185.50" y2="310.90" stroke="#145E4F" stroke-width="0.8"/>
<line x1="183.60" y1="331.27" x2="187.40" y2="331.27" stroke="#145E4F" stroke-width="0.8"/>
<line x1="183.60" y1="310.90" x2="187.40" y2="310.90" stroke="#145E4F" stroke-width="0.8"/>
<line x1="185.50" y1="331.27" x2="185.50" y2="257.55" stroke="#37AAD8" stroke-width="0.8"/>
<line x1="183.60" y1="331.27" x2="187.40" y2="331.27" stroke="#37AAD8" stroke-width="0.8"/>
<line x1="183.60" y1="257.55" x2="187.40" y2="257.55" stroke="#37AAD8" stroke-width="0.8"/>
</g>
<circle cx="66.25" cy="335.63" r="2.45" fill="#145E4F"/>
<circle cx="106.00" cy="303.87" r="2.45" fill="#145E4F"/>
<circle cx="145.75" cy="298.29" r="2.45" fill="#145E4F"/>
<circle cx="185.50" cy="317.93" r="2.45" fill="#145E4F"/>
<circle cx="66.25" cy="363.52" r="2.0" fill="#1C3A66"/>
<circle cx="106.00" cy="283.01" r="2.0" fill="#1C3A66"/>
<circle cx="145.75" cy="257.06" r="2.0" fill="#1C3A66"/>
<circle cx="185.50" cy="304.11" r="2.0" fill="#1C3A66"/>
<circle cx="66.25" cy="362.43" r="2.45" fill="#37AAD8"/>
<circle cx="106.00" cy="340.49" r="2.45" fill="#37AAD8"/>
<circle cx="145.75" cy="298.29" r="2.45" fill="#37AAD8"/>
<circle cx="185.50" cy="304.11" r="2.45" fill="#37AAD8"/>
<line x1="225.25" y1="309.44" x2="225.25" y2="287.62" stroke="#A8173A" stroke-width="1.2"/>
<line x1="223.45" y1="309.44" x2="227.05" y2="309.44" stroke="#A8173A" stroke-width="1.2"/>
<line x1="223.45" y1="287.62" x2="227.05" y2="287.62" stroke="#A8173A" stroke-width="1.2"/>
<circle cx="225.25" cy="306.29" r="1.7" fill="#7a1a30"/>
<text x="271.00" y="210.30" font-size="11.5" text-anchor="start" fill="#111" font-weight="bold">D</text>
<line x1="300.00" y1="217.00" x2="300.00" y2="365.10" stroke="#2a2a2a" stroke-width="1.3"/>
<line x1="299.40" y1="364.50" x2="512.50" y2="364.50" stroke="#2a2a2a" stroke-width="1.3"/>
<line x1="297.00" y1="364.25" x2="300.00" y2="364.25" stroke="#2a2a2a" stroke-width="0.9"/>
<text x="294.40" y="367.15" font-size="8.4" text-anchor="end" fill="#222" stroke="#222" stroke-width="0.22" textLength="4.44" lengthAdjust="spacingAndGlyphs">0</text>
<line x1="297.00" y1="328.00" x2="300.00" y2="328.00" stroke="#2a2a2a" stroke-width="0.9"/>
<text x="294.40" y="330.90" font-size="8.4" text-anchor="end" fill="#222" stroke="#222" stroke-width="0.22" textLength="8.88" lengthAdjust="spacingAndGlyphs">20</text>
<line x1="297.00" y1="291.75" x2="300.00" y2="291.75" stroke="#2a2a2a" stroke-width="0.9"/>
<text x="294.40" y="294.65" font-size="8.4" text-anchor="end" fill="#222" stroke="#222" stroke-width="0.22" textLength="8.88" lengthAdjust="spacingAndGlyphs">40</text>
<line x1="297.00" y1="255.50" x2="300.00" y2="255.50" stroke="#2a2a2a" stroke-width="0.9"/>
<text x="294.40" y="258.40" font-size="8.4" text-anchor="end" fill="#222" stroke="#222" stroke-width="0.22" textLength="8.88" lengthAdjust="spacingAndGlyphs">60</text>
<line x1="297.00" y1="219.25" x2="300.00" y2="219.25" stroke="#2a2a2a" stroke-width="0.9"/>
<text x="294.40" y="222.15" font-size="8.4" text-anchor="end" fill="#222" stroke="#222" stroke-width="0.22" textLength="8.88" lengthAdjust="spacingAndGlyphs">80</text>
<line x1="332.50" y1="364.50" x2="332.50" y2="367.50" stroke="#2a2a2a" stroke-width="0.9"/>
<text x="332.50" y="377.80" font-size="8.4" text-anchor="middle" fill="#222" stroke="#222" stroke-width="0.22" textLength="19.96" lengthAdjust="spacingAndGlyphs">Day 1</text>
<line x1="381.75" y1="364.50" x2="381.75" y2="367.50" stroke="#2a2a2a" stroke-width="0.9"/>
<text x="381.75" y="377.80" font-size="8.4" text-anchor="middle" fill="#222" stroke="#222" stroke-width="0.22" textLength="19.96" lengthAdjust="spacingAndGlyphs">Day 7</text>
<line x1="430.75" y1="364.50" x2="430.75" y2="367.50" stroke="#2a2a2a" stroke-width="0.9"/>
<text x="430.75" y="377.80" font-size="8.4" text-anchor="middle" fill="#222" stroke="#222" stroke-width="0.22" textLength="24.21" lengthAdjust="spacingAndGlyphs">Day 19</text>
<line x1="480.00" y1="364.50" x2="480.00" y2="367.50" stroke="#2a2a2a" stroke-width="0.9"/>
<text x="480.00" y="377.80" font-size="8.4" text-anchor="middle" fill="#222" stroke="#222" stroke-width="0.22" textLength="24.21" lengthAdjust="spacingAndGlyphs">Day 44</text>
<text x="279.10" y="291.00" font-size="9.6" text-anchor="middle" fill="#222" stroke="#222" stroke-width="0.22" textLength="94.9" lengthAdjust="spacingAndGlyphs" transform="rotate(-90 279.10 291.00)">Engraftment (%) (species level)</text>
<polyline fill="none" stroke="#F0B81E" stroke-width="1.2" stroke-opacity="0.9" points="332.50,364.25 381.75,270.73 430.75,278.16 480.00,318.03"/>
<polyline fill="none" stroke="#145E4F" stroke-width="1.2" stroke-opacity="0.9" points="332.50,364.25 381.75,323.47 430.75,294.29 480.00,309.15"/>
<polyline fill="none" stroke="#1C3A66" stroke-width="1.2" stroke-opacity="0.9" points="332.50,364.25 381.75,270.73 430.75,267.82 480.00,277.25"/>
<polyline fill="none" stroke="#37AAD8" stroke-width="1.2" stroke-opacity="0.9" points="332.50,364.25 381.75,303.17 430.75,251.88 480.00,285.77"/>
<circle cx="332.50" cy="364.25" r="2.1" fill="#F0B81E"/>
<circle cx="381.75" cy="270.73" r="2.1" fill="#F0B81E"/>
<circle cx="430.75" cy="278.16" r="2.1" fill="#F0B81E"/>
<circle cx="480.00" cy="318.03" r="2.1" fill="#F0B81E"/>
<g opacity="0.88">
<line x1="381.75" y1="355.01" x2="381.75" y2="249.52" stroke="#F0B81E" stroke-width="0.8"/>
<line x1="379.85" y1="355.01" x2="383.65" y2="355.01" stroke="#F0B81E" stroke-width="0.8"/>
<line x1="379.85" y1="249.52" x2="383.65" y2="249.52" stroke="#F0B81E" stroke-width="0.8"/>
<line x1="381.75" y1="337.43" x2="381.75" y2="319.66" stroke="#145E4F" stroke-width="0.8"/>
<line x1="379.85" y1="337.43" x2="383.65" y2="337.43" stroke="#145E4F" stroke-width="0.8"/>
<line x1="379.85" y1="319.66" x2="383.65" y2="319.66" stroke="#145E4F" stroke-width="0.8"/>
<line x1="381.75" y1="292.66" x2="381.75" y2="266.74" stroke="#1C3A66" stroke-width="0.8"/>
<line x1="379.85" y1="292.66" x2="383.65" y2="292.66" stroke="#1C3A66" stroke-width="0.8"/>
<line x1="379.85" y1="266.74" x2="383.65" y2="266.74" stroke="#1C3A66" stroke-width="0.8"/>
<line x1="381.75" y1="330.54" x2="381.75" y2="255.50" stroke="#37AAD8" stroke-width="0.8"/>
<line x1="379.85" y1="330.54" x2="383.65" y2="330.54" stroke="#37AAD8" stroke-width="0.8"/>
<line x1="379.85" y1="255.50" x2="383.65" y2="255.50" stroke="#37AAD8" stroke-width="0.8"/>
<line x1="430.75" y1="348.48" x2="430.75" y2="278.16" stroke="#F0B81E" stroke-width="0.8"/>
<line x1="428.85" y1="348.48" x2="432.65" y2="348.48" stroke="#F0B81E" stroke-width="0.8"/>
<line x1="428.85" y1="278.16" x2="432.65" y2="278.16" stroke="#F0B81E" stroke-width="0.8"/>
<line x1="430.75" y1="280.88" x2="430.75" y2="251.88" stroke="#37AAD8" stroke-width="0.8"/>
<line x1="428.85" y1="280.88" x2="432.65" y2="280.88" stroke="#37AAD8" stroke-width="0.8"/>
<line x1="428.85" y1="251.88" x2="432.65" y2="251.88" stroke="#37AAD8" stroke-width="0.8"/>
<line x1="430.75" y1="325.10" x2="430.75" y2="280.88" stroke="#145E4F" stroke-width="0.8"/>
<line x1="428.85" y1="325.10" x2="432.65" y2="325.10" stroke="#145E4F" stroke-width="0.8"/>
<line x1="428.85" y1="280.88" x2="432.65" y2="280.88" stroke="#145E4F" stroke-width="0.8"/>
<line x1="430.75" y1="304.62" x2="430.75" y2="256.95" stroke="#1C3A66" stroke-width="0.8"/>
<line x1="428.85" y1="304.62" x2="432.65" y2="304.62" stroke="#1C3A66" stroke-width="0.8"/>
<line x1="428.85" y1="256.95" x2="432.65" y2="256.95" stroke="#1C3A66" stroke-width="0.8"/>
<line x1="480.00" y1="343.41" x2="480.00" y2="318.03" stroke="#F0B81E" stroke-width="0.8"/>
<line x1="478.10" y1="343.41" x2="481.90" y2="343.41" stroke="#F0B81E" stroke-width="0.8"/>
<line x1="478.10" y1="318.03" x2="481.90" y2="318.03" stroke="#F0B81E" stroke-width="0.8"/>
<line x1="480.00" y1="335.07" x2="480.00" y2="309.15" stroke="#145E4F" stroke-width="0.8"/>
<line x1="478.10" y1="335.07" x2="481.90" y2="335.07" stroke="#145E4F" stroke-width="0.8"/>
<line x1="478.10" y1="309.15" x2="481.90" y2="309.15" stroke="#145E4F" stroke-width="0.8"/>
<line x1="480.00" y1="306.25" x2="480.00" y2="260.94" stroke="#1C3A66" stroke-width="0.8"/>
<line x1="478.10" y1="306.25" x2="481.90" y2="306.25" stroke="#1C3A66" stroke-width="0.8"/>
<line x1="478.10" y1="260.94" x2="481.90" y2="260.94" stroke="#1C3A66" stroke-width="0.8"/>
<line x1="480.00" y1="326.91" x2="480.00" y2="250.43" stroke="#37AAD8" stroke-width="0.8"/>
<line x1="478.10" y1="326.91" x2="481.90" y2="326.91" stroke="#37AAD8" stroke-width="0.8"/>
<line x1="478.10" y1="250.43" x2="481.90" y2="250.43" stroke="#37AAD8" stroke-width="0.8"/>
</g>
<circle cx="332.50" cy="364.25" r="2.45" fill="#145E4F"/>
<circle cx="381.75" cy="323.47" r="2.45" fill="#145E4F"/>
<circle cx="430.75" cy="294.29" r="2.45" fill="#145E4F"/>
<circle cx="480.00" cy="309.15" r="2.45" fill="#145E4F"/>
<circle cx="332.50" cy="364.25" r="2.0" fill="#1C3A66"/>
<circle cx="381.75" cy="270.73" r="2.0" fill="#1C3A66"/>
<circle cx="430.75" cy="267.82" r="2.0" fill="#1C3A66"/>
<circle cx="480.00" cy="277.25" r="2.0" fill="#1C3A66"/>
<circle cx="332.50" cy="364.25" r="2.45" fill="#37AAD8"/>
<circle cx="381.75" cy="303.17" r="2.45" fill="#37AAD8"/>
<circle cx="430.75" cy="251.88" r="2.45" fill="#37AAD8"/>
<circle cx="480.00" cy="285.77" r="2.45" fill="#37AAD8"/>
<text x="8.00" y="405.30" font-size="11.5" text-anchor="start" fill="#111" font-weight="bold">E</text>
<line x1="38.00" y1="408.00" x2="38.00" y2="493.50" stroke="#2a2a2a" stroke-width="1.3"/>
<line x1="35.00" y1="490.70" x2="38.00" y2="490.70" stroke="#2a2a2a" stroke-width="0.9"/>
<text x="31.60" y="493.60" font-size="8.4" text-anchor="end" fill="#222" stroke="#222" stroke-width="0.1" textLength="4.44" lengthAdjust="spacingAndGlyphs">0</text>
<line x1="35.00" y1="465.88" x2="38.00" y2="465.88" stroke="#2a2a2a" stroke-width="0.9"/>
<text x="31.60" y="468.78" font-size="8.4" text-anchor="end" fill="#222" stroke="#222" stroke-width="0.1" textLength="8.88" lengthAdjust="spacingAndGlyphs">20</text>
<line x1="35.00" y1="441.07" x2="38.00" y2="441.07" stroke="#2a2a2a" stroke-width="0.9"/>
<text x="31.60" y="443.97" font-size="8.4" text-anchor="end" fill="#222" stroke="#222" stroke-width="0.1" textLength="8.88" lengthAdjust="spacingAndGlyphs">40</text>
<line x1="35.00" y1="416.25" x2="38.00" y2="416.25" stroke="#2a2a2a" stroke-width="0.9"/>
<text x="31.60" y="419.15" font-size="8.4" text-anchor="end" fill="#222" stroke="#222" stroke-width="0.1" textLength="8.88" lengthAdjust="spacingAndGlyphs">60</text>
<line x1="38.00" y1="496.00" x2="38.00" y2="583.00" stroke="#2a2a2a" stroke-width="1.3"/>
<line x1="35.00" y1="578.25" x2="38.00" y2="578.25" stroke="#2a2a2a" stroke-width="0.9"/>
<text x="31.60" y="581.15" font-size="8.4" text-anchor="end" fill="#222" stroke="#222" stroke-width="0.1" textLength="4.44" lengthAdjust="spacingAndGlyphs">0</text>
<line x1="35.00" y1="553.43" x2="38.00" y2="553.43" stroke="#2a2a2a" stroke-width="0.9"/>
<text x="31.60" y="556.33" font-size="8.4" text-anchor="end" fill="#222" stroke="#222" stroke-width="0.1" textLength="8.88" lengthAdjust="spacingAndGlyphs">20</text>
<line x1="35.00" y1="528.62" x2="38.00" y2="528.62" stroke="#2a2a2a" stroke-width="0.9"/>
<text x="31.60" y="531.52" font-size="8.4" text-anchor="end" fill="#222" stroke="#222" stroke-width="0.1" textLength="8.88" lengthAdjust="spacingAndGlyphs">40</text>
<line x1="35.00" y1="503.80" x2="38.00" y2="503.80" stroke="#2a2a2a" stroke-width="0.9"/>
<text x="31.60" y="506.70" font-size="8.4" text-anchor="end" fill="#222" stroke="#222" stroke-width="0.1" textLength="8.88" lengthAdjust="spacingAndGlyphs">60</text>
<line x1="38.00" y1="584.50" x2="38.00" y2="670.00" stroke="#2a2a2a" stroke-width="1.3"/>
<line x1="35.00" y1="665.75" x2="38.00" y2="665.75" stroke="#2a2a2a" stroke-width="0.9"/>
<text x="31.60" y="668.65" font-size="8.4" text-anchor="end" fill="#222" stroke="#222" stroke-width="0.1" textLength="4.44" lengthAdjust="spacingAndGlyphs">0</text>
<line x1="35.00" y1="640.93" x2="38.00" y2="640.93" stroke="#2a2a2a" stroke-width="0.9"/>
<text x="31.60" y="643.83" font-size="8.4" text-anchor="end" fill="#222" stroke="#222" stroke-width="0.1" textLength="8.88" lengthAdjust="spacingAndGlyphs">20</text>
<line x1="35.00" y1="616.12" x2="38.00" y2="616.12" stroke="#2a2a2a" stroke-width="0.9"/>
<text x="31.60" y="619.02" font-size="8.4" text-anchor="end" fill="#222" stroke="#222" stroke-width="0.1" textLength="8.88" lengthAdjust="spacingAndGlyphs">40</text>
<line x1="35.00" y1="591.30" x2="38.00" y2="591.30" stroke="#2a2a2a" stroke-width="0.9"/>
<text x="31.60" y="594.20" font-size="8.4" text-anchor="end" fill="#222" stroke="#222" stroke-width="0.1" textLength="8.88" lengthAdjust="spacingAndGlyphs">60</text>
<line x1="37.40" y1="670.00" x2="386.50" y2="670.00" stroke="#2a2a2a" stroke-width="1.3"/>
<line x1="63.25" y1="670.00" x2="63.25" y2="673.00" stroke="#2a2a2a" stroke-width="0.9"/>
<text x="63.25" y="684.30" font-size="8.4" text-anchor="middle" fill="#222" stroke="#222" stroke-width="0.22" textLength="8.88" lengthAdjust="spacingAndGlyphs">25</text>
<line x1="146.58" y1="670.00" x2="146.58" y2="673.00" stroke="#2a2a2a" stroke-width="0.9"/>
<text x="146.58" y="684.30" font-size="8.4" text-anchor="middle" fill="#222" stroke="#222" stroke-width="0.22" textLength="8.88" lengthAdjust="spacingAndGlyphs">50</text>
<line x1="229.91" y1="670.00" x2="229.91" y2="673.00" stroke="#2a2a2a" stroke-width="0.9"/>
<text x="229.91" y="684.30" font-size="8.4" text-anchor="middle" fill="#222" stroke="#222" stroke-width="0.22" textLength="8.88" lengthAdjust="spacingAndGlyphs">75</text>
<line x1="313.25" y1="670.00" x2="313.25" y2="673.00" stroke="#2a2a2a" stroke-width="0.9"/>
<text x="313.25" y="684.30" font-size="8.4" text-anchor="middle" fill="#222" stroke="#222" stroke-width="0.22" textLength="13.31" lengthAdjust="spacingAndGlyphs">100</text>
<text x="212.00" y="696.50" font-size="8.6" text-anchor="middle" fill="#222" stroke="#222" stroke-width="0.22" textLength="26" lengthAdjust="spacingAndGlyphs">Richness</text>
<text x="15.70" y="538.90" font-size="9.6" text-anchor="middle" fill="#222" stroke="#222" stroke-width="0.22" textLength="36.3" lengthAdjust="spacingAndGlyphs" transform="rotate(-90 15.70 538.90)">Engraftment</text>
<rect x="387.3" y="408" width="15.3" height="86.00" fill="#FBDDBC"/>
<text x="391.90" y="451.00" font-size="8.4" text-anchor="middle" fill="#222" stroke="#222" stroke-width="0.22" textLength="22.6" lengthAdjust="spacingAndGlyphs" transform="rotate(90 391.90 451.00)">Day 7</text>
<rect x="387.3" y="496" width="15.3" height="86.40" fill="#FBDDBC"/>
<text x="391.90" y="539.20" font-size="8.4" text-anchor="middle" fill="#222" stroke="#222" stroke-width="0.22" textLength="25.6" lengthAdjust="spacingAndGlyphs" transform="rotate(90 391.90 539.20)">Day 19</text>
<rect x="387.3" y="584.2" width="15.3" height="86.30" fill="#FBDDBC"/>
<text x="391.90" y="627.35" font-size="8.4" text-anchor="middle" fill="#222" stroke="#222" stroke-width="0.22" textLength="25.0" lengthAdjust="spacingAndGlyphs" transform="rotate(90 391.90 627.35)">Day 44</text>
<line x1="54.00" y1="427.80" x2="370.00" y2="475.00" stroke="#54769A" stroke-width="0.9"/>
<line x1="57.50" y1="510.00" x2="368.75" y2="548.00" stroke="#54769A" stroke-width="0.9"/>
<line x1="57.00" y1="601.25" x2="370.00" y2="649.50" stroke="#54769A" stroke-width="0.9"/>
<circle cx="56.80" cy="411.90" r="2.0" fill="#E8C21C"/>
<circle cx="83.90" cy="421.80" r="2.0" fill="#1B3560"/>
<circle cx="103.80" cy="425.80" r="2.0" fill="#E8C21C"/>
<circle cx="120.30" cy="415.90" r="2.0" fill="#3BA5CF"/>
<circle cx="116.80" cy="427.00" r="2.0" fill="#1B3560"/>
<circle cx="83.90" cy="436.70" r="2.0" fill="#1D564A"/>
<circle cx="53.70" cy="445.10" r="2.0" fill="#1B3560"/>
<circle cx="126.70" cy="448.60" r="2.0" fill="#3BA5CF"/>
<circle cx="97.00" cy="484.25" r="2.0" fill="#E8C21C"/>
<circle cx="206.75" cy="425.00" r="2.0" fill="#1B3560"/>
<circle cx="183.75" cy="443.00" r="2.0" fill="#1D564A"/>
<circle cx="216.75" cy="462.50" r="2.0" fill="#1D564A"/>
<circle cx="290.00" cy="469.25" r="2.0" fill="#1D564A"/>
<circle cx="300.00" cy="462.50" r="2.0" fill="#1D564A"/>
<circle cx="310.00" cy="467.00" r="2.0" fill="#3BA5CF"/>
<circle cx="336.75" cy="481.25" r="2.0" fill="#1D564A"/>
<circle cx="370.00" cy="474.50" r="2.0" fill="#1B3560"/>
<polygon points="54.40,507.75 59.60,507.75 57.00,503.25" fill="#E8C21C"/>
<polygon points="81.15,505.75 86.35,505.75 83.75,501.25" fill="#1B3560"/>
<polygon points="81.15,521.50 86.35,521.50 83.75,517.00" fill="#1D564A"/>
<polygon points="101.15,521.25 106.35,521.25 103.75,516.75" fill="#E8C21C"/>
<polygon points="114.40,505.75 119.60,505.75 117.00,501.25" fill="#1B3560"/>
<polygon points="117.40,502.00 122.60,502.00 120.00,497.50" fill="#3BA5CF"/>
<polygon points="124.15,503.75 129.35,503.75 126.75,499.25" fill="#3BA5CF"/>
<polygon points="94.40,568.75 99.60,568.75 97.00,564.25" fill="#E8C21C"/>
<polygon points="181.15,524.00 186.35,524.00 183.75,519.50" fill="#1D564A"/>
<polygon points="204.15,521.25 209.35,521.25 206.75,516.75" fill="#1B3560"/>
<polygon points="214.15,523.25 219.35,523.25 216.75,518.75" fill="#1D564A"/>
<polygon points="287.40,552.00 292.60,552.00 290.00,547.50" fill="#1D564A"/>
<polygon points="297.40,539.50 302.60,539.50 300.00,535.00" fill="#1D564A"/>
<polygon points="334.15,555.25 339.35,555.25 336.75,550.75" fill="#1D564A"/>
<polygon points="367.40,544.50 372.60,544.50 370.00,540.00" fill="#1B3560"/>
<rect x="54.80" y="586.55" width="4.4" height="4.4" fill="#E8C21C"/>
<rect x="81.55" y="591.05" width="4.4" height="4.4" fill="#1B3560"/>
<rect x="81.55" y="602.05" width="4.4" height="4.4" fill="#1D564A"/>
<rect x="117.80" y="586.05" width="4.4" height="4.4" fill="#3BA5CF"/>
<rect x="114.55" y="597.80" width="4.4" height="4.4" fill="#1B3560"/>
<rect x="94.80" y="632.30" width="4.4" height="4.4" fill="#E8C21C"/>
<rect x="101.55" y="649.55" width="4.4" height="4.4" fill="#E8C21C"/>
<rect x="181.55" y="614.55" width="4.4" height="4.4" fill="#1D564A"/>
<rect x="204.55" y="610.80" width="4.4" height="4.4" fill="#1B3560"/>
<rect x="214.55" y="623.55" width="4.4" height="4.4" fill="#1D564A"/>
<rect x="287.80" y="629.05" width="4.4" height="4.4" fill="#1D564A"/>
<rect x="307.80" y="634.05" width="4.4" height="4.4" fill="#3BA5CF"/>
<rect x="297.80" y="640.30" width="4.4" height="4.4" fill="#1D564A"/>
<rect x="334.55" y="656.05" width="4.4" height="4.4" fill="#1D564A"/>
<rect x="367.80" y="647.30" width="4.4" height="4.4" fill="#1B3560"/>
<text x="282" y="424.0" font-size="8" fill="#222" stroke="#222" stroke-width="0.1" textLength="56.5" lengthAdjust="spacingAndGlyphs"><tspan font-style="italic">y</tspan> = 59 − 0.41 <tspan font-style="italic">×</tspan></text>
<text x="282" y="433.6" font-size="8" fill="#222" stroke="#222" stroke-width="0.1" textLength="76.5" lengthAdjust="spacingAndGlyphs"><tspan font-style="italic">R</tspan> = −0.68, <tspan font-style="italic">P</tspan> = .0029</text>
<text x="282" y="511.2" font-size="8" fill="#222" stroke="#222" stroke-width="0.1" textLength="56.5" lengthAdjust="spacingAndGlyphs"><tspan font-style="italic">y</tspan> = 63 − 0.33 <tspan font-style="italic">×</tspan></text>
<text x="282" y="520.6" font-size="8" fill="#222" stroke="#222" stroke-width="0.1" textLength="67.5" lengthAdjust="spacingAndGlyphs"><tspan font-style="italic">R</tspan> = −0.59, <tspan font-style="italic">P</tspan> = .02</text>
<text x="282" y="600.0" font-size="8" fill="#222" stroke="#222" stroke-width="0.1" textLength="56.5" lengthAdjust="spacingAndGlyphs"><tspan font-style="italic">y</tspan> = 62 − 0.42 <tspan font-style="italic">×</tspan></text>
<text x="282" y="609.4" font-size="8" fill="#222" stroke="#222" stroke-width="0.1" textLength="70.5" lengthAdjust="spacingAndGlyphs"><tspan font-style="italic">R</tspan> = −0.7, <tspan font-style="italic">P</tspan> = .0034</text>
<line x1="416.25" y1="432.50" x2="427.5" y2="432.50" stroke="#F0B81E" stroke-width="1.3" opacity="0.7"/>
<circle cx="422.00" cy="432.50" r="2.1" fill="#F0B81E"/>
<text x="430.80" y="435.80" font-size="8.4" text-anchor="start" fill="#222" stroke="#222" stroke-width="0.1" textLength="30.3" lengthAdjust="spacingAndGlyphs">Cohort 1</text>
<line x1="416.25" y1="444.65" x2="427.5" y2="444.65" stroke="#145E4F" stroke-width="1.3" opacity="0.7"/>
<circle cx="422.00" cy="444.65" r="2.45" fill="#145E4F"/>
<text x="430.80" y="447.95" font-size="8.4" text-anchor="start" fill="#222" stroke="#222" stroke-width="0.1" textLength="30.3" lengthAdjust="spacingAndGlyphs">Cohort 2</text>
<line x1="416.25" y1="456.80" x2="427.5" y2="456.80" stroke="#1C3A66" stroke-width="1.3" opacity="0.7"/>
<circle cx="422.00" cy="456.80" r="2.0" fill="#1C3A66"/>
<text x="430.80" y="460.10" font-size="8.4" text-anchor="start" fill="#222" stroke="#222" stroke-width="0.1" textLength="30.3" lengthAdjust="spacingAndGlyphs">Cohort 3</text>
<line x1="416.25" y1="468.95" x2="427.5" y2="468.95" stroke="#37AAD8" stroke-width="1.3" opacity="0.7"/>
<circle cx="422.00" cy="468.95" r="2.45" fill="#37AAD8"/>
<text x="430.80" y="472.25" font-size="8.4" text-anchor="start" fill="#222" stroke="#222" stroke-width="0.1" textLength="30.3" lengthAdjust="spacingAndGlyphs">Cohort 4</text>
<rect x="0.5" y="0.5" width="519" height="703" fill="none" stroke="#5a5a5a" stroke-width="1.2"/>
</svg></body></html>
